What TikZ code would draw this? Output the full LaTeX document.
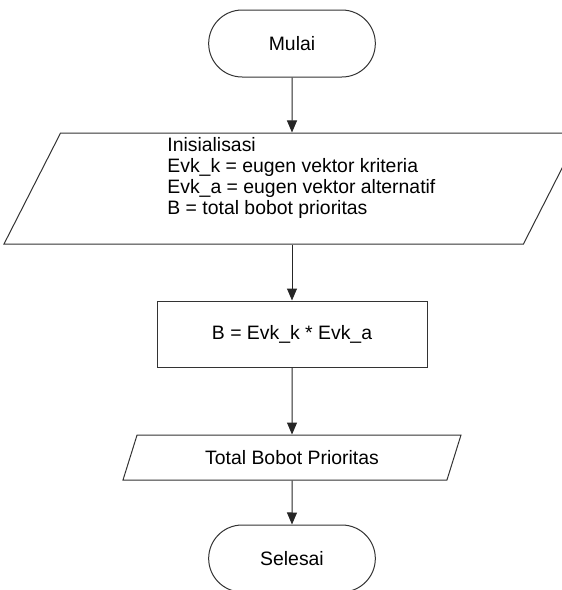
\documentclass[tikz,border=0pt]{standalone}
\usepackage{fontspec}
\setmainfont{Liberation Sans}
\usetikzlibrary{shapes.misc,shapes.geometric,arrows.meta}

\begin{document}
\begin{tikzpicture}[x=0.5pt,y=-0.5pt,
  every node/.style={font=\fontsize{9.7}{10.5}\selectfont},
  terminal/.style={draw=black!80, line width=0.5pt, rounded rectangle,
    minimum width=90pt, minimum height=33.5pt},
  iobox/.style={draw=black!80, line width=0.5pt, trapezium,
    trapezium left angle=63, trapezium right angle=117,
    trapezium stretches body},
  procbox/.style={draw=black!80, line width=0.5pt, rectangle,
    minimum width=135pt, minimum height=33pt},
  flow/.style={draw=black!85, line width=0.5pt, -{Triangle[length=6pt,width=5pt]}}]
\useasboundingbox (0,0) rectangle (562,590);
\node[terminal] (mulai) at (292,43.5) {Mulai};
\node[iobox, inner sep=0pt, minimum width=288pt] (init) at (292,188.5) {\rule{0pt}{55.5pt}};
\node[anchor=west, inner sep=0pt, align=left] (initText) at (167,178)
  {Inisialisasi\\Evk\_k = eugen vektor kriteria\\Evk\_a = eugen vektor alternatif\\B = total bobot prioritas};
\node[procbox] (hitung) at (292,334) {B = Evk\_k * Evk\_a};
\node[iobox, minimum width=169pt, minimum height=22.5pt] (hasil) at (292,457.5) {Total Bobot Prioritas};
\node[terminal] (selesai) at (292,558.5) {Selesai};
\draw[flow] (mulai) -- (init);
\draw[flow] (init) -- (hitung);
\draw[flow] (hitung) -- (hasil);
\draw[flow] (hasil) -- (selesai);
\end{tikzpicture}
\end{document}
